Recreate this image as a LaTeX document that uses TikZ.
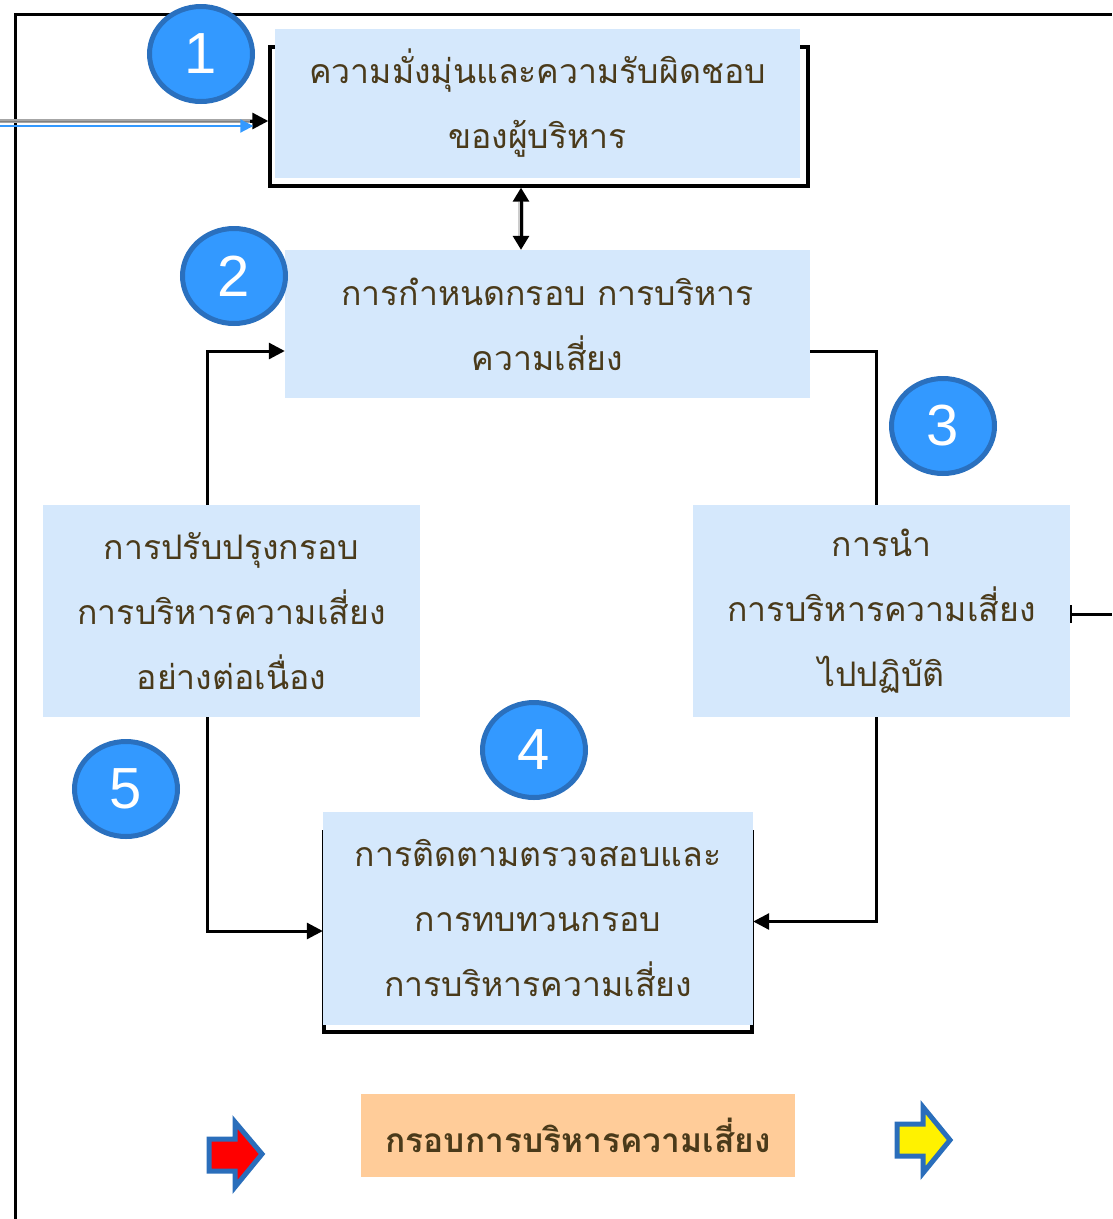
\documentclass[tikz,border=0pt]{standalone}
\usepackage{fontspec}
\setmainfont{Liberation Sans}
\newfontfamily\thai[Script=Thai]{Loma}
\usetikzlibrary{arrows.meta,shapes.geometric}

\definecolor{boxblue}{RGB}{213,232,252}
\definecolor{txt}{RGB}{74,58,26}
\definecolor{badgefill}{RGB}{51,153,255}
\definecolor{badgeedge}{RGB}{42,112,190}
\definecolor{peach}{RGB}{255,204,153}
\definecolor{arrowedge}{RGB}{42,110,187}

\tikzset{
  box/.style={fill=boxblue, inner sep=0pt, align=center, text=txt,
    font=\thai\fontsize{33.8}{65}\selectfont},
  frame/.style={draw=black, line width=3.4pt, inner sep=0pt},
  badge/.style={ellipse, fill=badgefill, draw=badgeedge, line width=5pt,
    minimum width=103pt, minimum height=95pt, text=white, inner sep=0pt,
    font=\fontsize{58}{60}\selectfont},
  conn/.style={draw=black, line width=3pt},
  shade/.style={draw=gray!40, line width=6pt},
  tip/.style={-{Triangle[length=16pt,width=16pt]}},
  blockarrow/.style={draw=arrowedge, line width=5pt, line join=miter},
}

\begin{document}
\begin{tikzpicture}[x=1pt, y=-1pt]
\useasboundingbox (0,0) rectangle (1112,1219);

% outer frame
\draw[line width=3pt] (15,1219) -- (15,14) -- (1112,14);

% box 1 with its offset frame
\node[frame, minimum width=538pt, minimum height=139pt] (f1) at (539,116.5) {};
\node[box, minimum width=525pt, minimum height=149pt] (b1) at (537.5,103.5)
  {ความมั่งมุ่นและความรับผิดชอบ\\ของผู้บริหาร};

% box 4 with its offset frame
\node[frame, minimum width=428pt, minimum height=200pt] (f4) at (538,932) {};
\node[box, minimum width=430pt, minimum height=213pt] (b4) at (538,918.5)
  {การติดตามตรวจสอบและ\\การทบทวนกรอบ\\การบริหารความเสี่ยง};

% remaining boxes
\node[box, minimum width=525pt, minimum height=148pt] (b2) at (547.5,324)
  {การกำหนดกรอบ การบริหาร\\ความเสี่ยง};
\node[box, minimum width=377pt, minimum height=212pt] (b3) at (881.5,611)
  {การนำ\\การบริหารความเสี่ยง\\ไปปฏิบัติ};
\node[box, minimum width=377pt, minimum height=212pt] (b5) at (231.5,611)
  {การปรับปรุงกรอบ\\การบริหารความเสี่ยง\\อย่างต่อเนื่อง};

% incoming arrow from the left
\coordinate (inG) at (0,121);
\coordinate (inB) at (0,126);
\draw[draw=gray!70, line width=4pt] (inG) -- ([xshift=-12pt]inG -| f1.west);
\draw[line width=1pt, draw=gray] (inG) -- ([xshift=-12pt]inG -| f1.west);
\draw[conn, tip] ([xshift=-18pt]inG -| f1.west) -- (inG -| f1.west);
\draw[draw=badgefill, line width=2pt, -{Triangle[length=13pt,width=13pt]}]
  (inB) -- ([xshift=-15pt]inB -| f1.west);

% two-way link between boxes 1 and 2
\coordinate (mid) at (521,0);
\draw[shade] ([yshift=-14pt]f1.south -| mid) -- ([yshift=14pt]b2.north -| mid);
\draw[conn, {Triangle[length=14pt,width=16pt]}-{Triangle[length=14pt,width=16pt]}]
  (f1.south -| mid) -- (b2.north -| mid);

% cycle connectors
\draw[conn] ([yshift=-27pt]b2.east) -| ([xshift=-5.5pt]b3.north);
\draw[conn, tip] ([xshift=-5.5pt]b3.south) |- ([yshift=-3pt]b4.east);
\draw[conn, tip] ([xshift=-24.5pt]b5.south) |- ([yshift=-12.5pt]b4.west);
\draw[conn, tip] ([xshift=-24.5pt]b5.north) |- ([yshift=-27pt]b2.west);

% outgoing line to the right
\coordinate (outR) at (1112,614);
\draw[conn, {Bar[width=18pt,line width=2pt]}-] ([yshift=-3pt]b3.east) -- (outR);

% numbered badges
\node[badge] (n1) at (201,54) {1};
\node[badge] (n2) at (234,276) {2};
\node[badge] (n3) at (943,426) {3};
\node[badge] (n4) at (534,750) {4};
\node[badge] (n5) at (126,789) {5};

% title box
\node[fill=peach, minimum width=434pt, minimum height=83pt, inner sep=0pt,
  text=txt, font=\thai\bfseries\fontsize{33.5}{40}\selectfont] (title) at (578,1135.5)
  {กรอบการบริหารความเสี่ยง};

% block arrows
\draw[blockarrow, fill=red] (209,1139) -- (235,1139) -- (235,1122) -- (262,1154)
  -- (235,1187) -- (235,1171) -- (209,1171) -- cycle;
\draw[blockarrow, fill=yellow] (897,1124) -- (923,1124) -- (923,1107) -- (950,1140)
  -- (923,1173) -- (923,1156) -- (897,1156) -- cycle;
\end{tikzpicture}
\end{document}
